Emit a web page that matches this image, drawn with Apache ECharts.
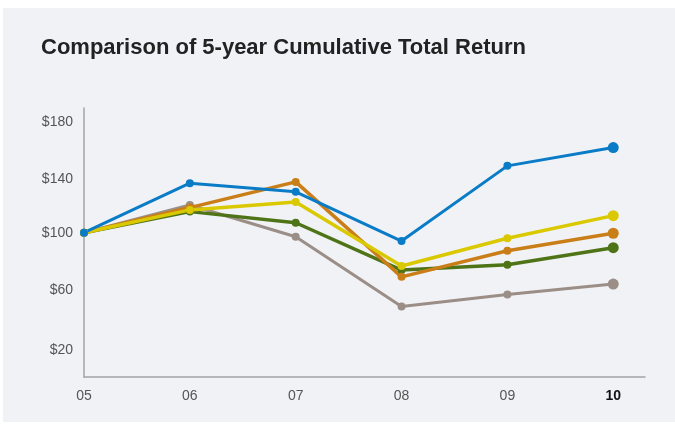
<!DOCTYPE html>
<html>
<head>
<meta charset="utf-8">
<script src="https://cdn.jsdelivr.net/npm/echarts@6/dist/echarts.min.js"></script>
<style>
  html, body { margin: 0; padding: 0; background: #ffffff; }
  #container { width: 675px; height: 426px; }
</style>
</head>
<body>
<div id="container"></div>
<script>
// years on the x axis (2005..2010)
var years = ['05', '06', '07', '08', '09', '10'];

// cumulative value of $100 invested
var blueValues   = [100, 134.3, 128.3, 94.2, 146.3, 159.0];
var yellowValues = [100, 115.8, 121.3, 76.9, 96.1, 111.8];
var orangeValues = [100, 117.4, 135.2, 69.4, 87.5, 99.6];
var greenValues  = [100, 114.6, 106.9, 74.1, 77.8, 89.6];
var grayValues   = [100, 119.2, 97.2, 48.9, 57.2, 64.4];

var yLabels = [20, 60, 100, 140, 180];

function toPoints(values) {
    return values.map(function (v, i) {
        var last = i === values.length - 1;
        return { value: [5 + i, v], symbolSize: last ? 11 : 8 };
    });
}

function makeSeries(name, color, values, width) {
    return {
        name: name,
        type: 'line',
        data: toPoints(values),
        symbol: 'circle',
        lineStyle: { color: color, width: width },
        itemStyle: { color: color },
        emphasis: { disabled: true },
        animation: false
    };
}

var dom = document.getElementById('container');
var myChart = echarts.init(dom);

var option = {
    backgroundColor: '#ffffff',
    textStyle: { fontFamily: 'Liberation Sans, Arial, sans-serif' },
    graphic: [{
        type: 'rect',
        z: -10,
        shape: { x: 3, y: 8, width: 672, height: 414 },
        style: { fill: '#f1f2f6' }
    }],
    title: {
        text: 'Comparison of 5-year Cumulative Total Return',
        left: 36,
        top: 32,
        textStyle: {
            fontFamily: 'Liberation Sans, Arial, sans-serif',
            fontWeight: 'bold',
            fontSize: 22,
            color: '#222222'
        }
    },
    grid: { left: 84, right: 30, top: 108, bottom: 49 },
    xAxis: {
        type: 'value',
        min: 5,
        max: 10.3,
        interval: 1,
        splitLine: { show: false },
        axisTick: { show: false },
        axisLine: { lineStyle: { color: '#a3a4a8', width: 1.5 } },
        axisLabel: {
            margin: 12,
            fontSize: 14,
            color: '#555555',
            showMaxLabel: false,
            formatter: function (v) {
                if (Math.abs(v - Math.round(v)) > 1e-6) return '';
                var lbl = years[Math.round(v) - 5] || '';
                return v === 10 ? '{b|' + lbl + '}' : lbl;
            },
            rich: {
                b: { fontWeight: 'bold', color: '#111111', fontSize: 14 }
            }
        }
    },
    yAxis: {
        type: 'value',
        min: 0,
        max: 186.4,
        interval: 20,
        splitLine: { show: false },
        axisTick: { show: false },
        axisLine: { show: true, lineStyle: { color: '#a3a4a8', width: 1.5 } },
        axisLabel: {
            margin: 11,
            fontSize: 14,
            color: '#555555',
            showMaxLabel: false,
            formatter: function (v) {
                if (yLabels.indexOf(v) < 0) return '';
                if (v === 180) return '{d10|$' + v + '}';
                if (v === 140) return '{d8|$' + v + '}';
                if (v === 20) return '{d4|$' + v + '}';
                return '$' + v;
            },
            rich: {
                d10: { fontSize: 14, color: '#555555', padding: [10, 0, 0, 0] },
                d8: { fontSize: 14, color: '#555555', padding: [8, 0, 0, 0] },
                d4: { fontSize: 14, color: '#555555', padding: [4, 0, 0, 0] }
            }
        }
    },
    series: [
        makeSeries('Gray', '#9a8e87', grayValues, 3),
        makeSeries('Green', '#4f7418', greenValues, 3.5),
        makeSeries('Orange', '#c97e17', orangeValues, 3.5),
        makeSeries('Yellow', '#dac900', yellowValues, 3.5),
        makeSeries('Blue', '#0a7bc6', blueValues, 3)
    ]
};

myChart.setOption(option);
</script>
</body>
</html>
